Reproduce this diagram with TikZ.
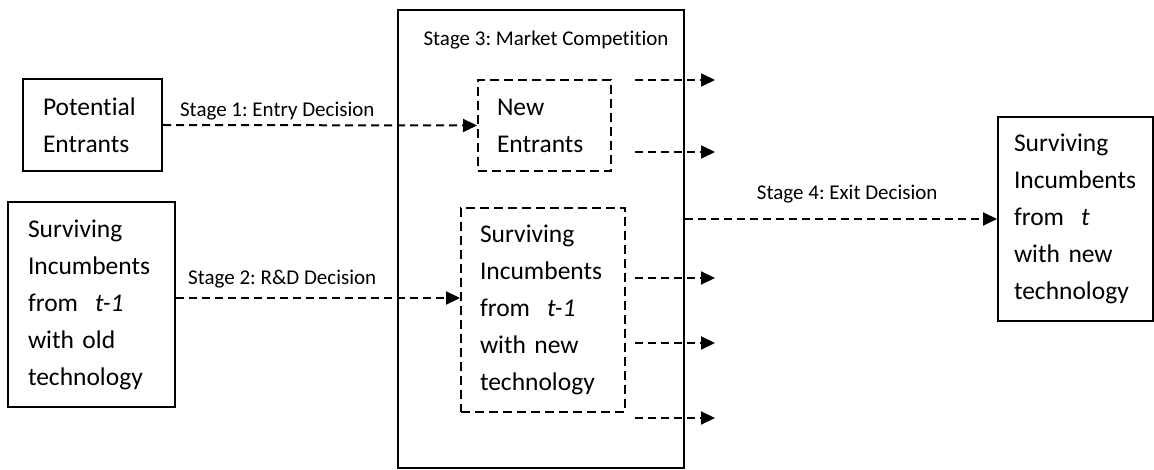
\documentclass[tikz,border=0pt]{standalone}
\usepackage{fontspec}
\setmainfont{Carlito}[RawFeature={-liga;-clig;-calt}]
\frenchspacing
\usetikzlibrary{positioning,arrows.meta}

\tikzset{
  firm/.style={draw, line width=2pt, align=left, inner ysep=0pt},
  newfirm/.style={firm, dash pattern=on 9pt off 5pt},
  move/.style={line width=2pt, dash pattern=on 8pt off 5pt, -{Triangle[length=14pt,width=13pt]}},
  boxtext/.style={font=\fontsize{25.5}{37}\selectfont},
  stagetext/.style={font=\fontsize{21}{25}\selectfont}
}

\begin{document}
\begin{tikzpicture}[x=1pt,y=-1pt]
\useasboundingbox (0,0) rectangle (1154,470);

% the market in period t
\node[draw, line width=2pt, minimum width=286pt, minimum height=458pt] (market) at (541,239) {};
\node[stagetext, anchor=base] (comp) at ([xshift=5pt,yshift=-37pt]market.north) {Stage 3: Market Competition};

% firms coming in
\node[firm, boxtext, text width=99pt, inner xsep=20pt, minimum height=92pt] (potent) at (92.5,125) {Potential\\Entrants};
\node[firm, boxtext, text width=127pt, inner xsep=20pt, minimum height=205pt] (old) at (91.5,304.5)
  {Surviving\\Incumbents\\from~~\textit{t-1}\\with old\\technology};

% firms inside the market
\node[newfirm, boxtext, text width=95pt, inner xsep=19pt, minimum height=91pt] (newent) at (544.5,125.5) {New\\Entrants};
\node[newfirm, boxtext, text width=126pt, inner xsep=19pt, minimum height=204pt] (survn) at (543,310)
  {Surviving\\Incumbents\\from~~\textit{t-1}\\with new\\technology};

% firms left at the end
\node[firm, boxtext, text width=123pt, inner xsep=16pt, minimum height=204pt] (survt) at (1075.5,219)
  {Surviving\\Incumbents\\from~~\textit{t}\\with new\\technology};

% entry and R&D
\draw[move] (potent.east) -- node[stagetext, pos=.364, anchor=base, yshift=9pt] (entry) {Stage 1: Entry Decision} (newent.west);
\draw[move] ([yshift=6.5pt]old.east) -- node[stagetext, pos=.374, anchor=base, yshift=13pt] (rnd) {Stage 2: R\&D Decision}
  ([yshift=6.5pt]old.east -| survn.west);

% exit
\foreach \y [count=\i] in {80,152,278,343,418} {
  \coordinate (out\i) at (635,\y);
  \coordinate (gone\i) at (715,\y);
  \draw[move] (out\i) -- (gone\i);
}
\draw[move] (market.east |- survt.west) -- node[stagetext, pos=.52, anchor=base, yshift=19pt] (exit) {Stage 4: Exit Decision} (survt.west);
\end{tikzpicture}
\end{document}
